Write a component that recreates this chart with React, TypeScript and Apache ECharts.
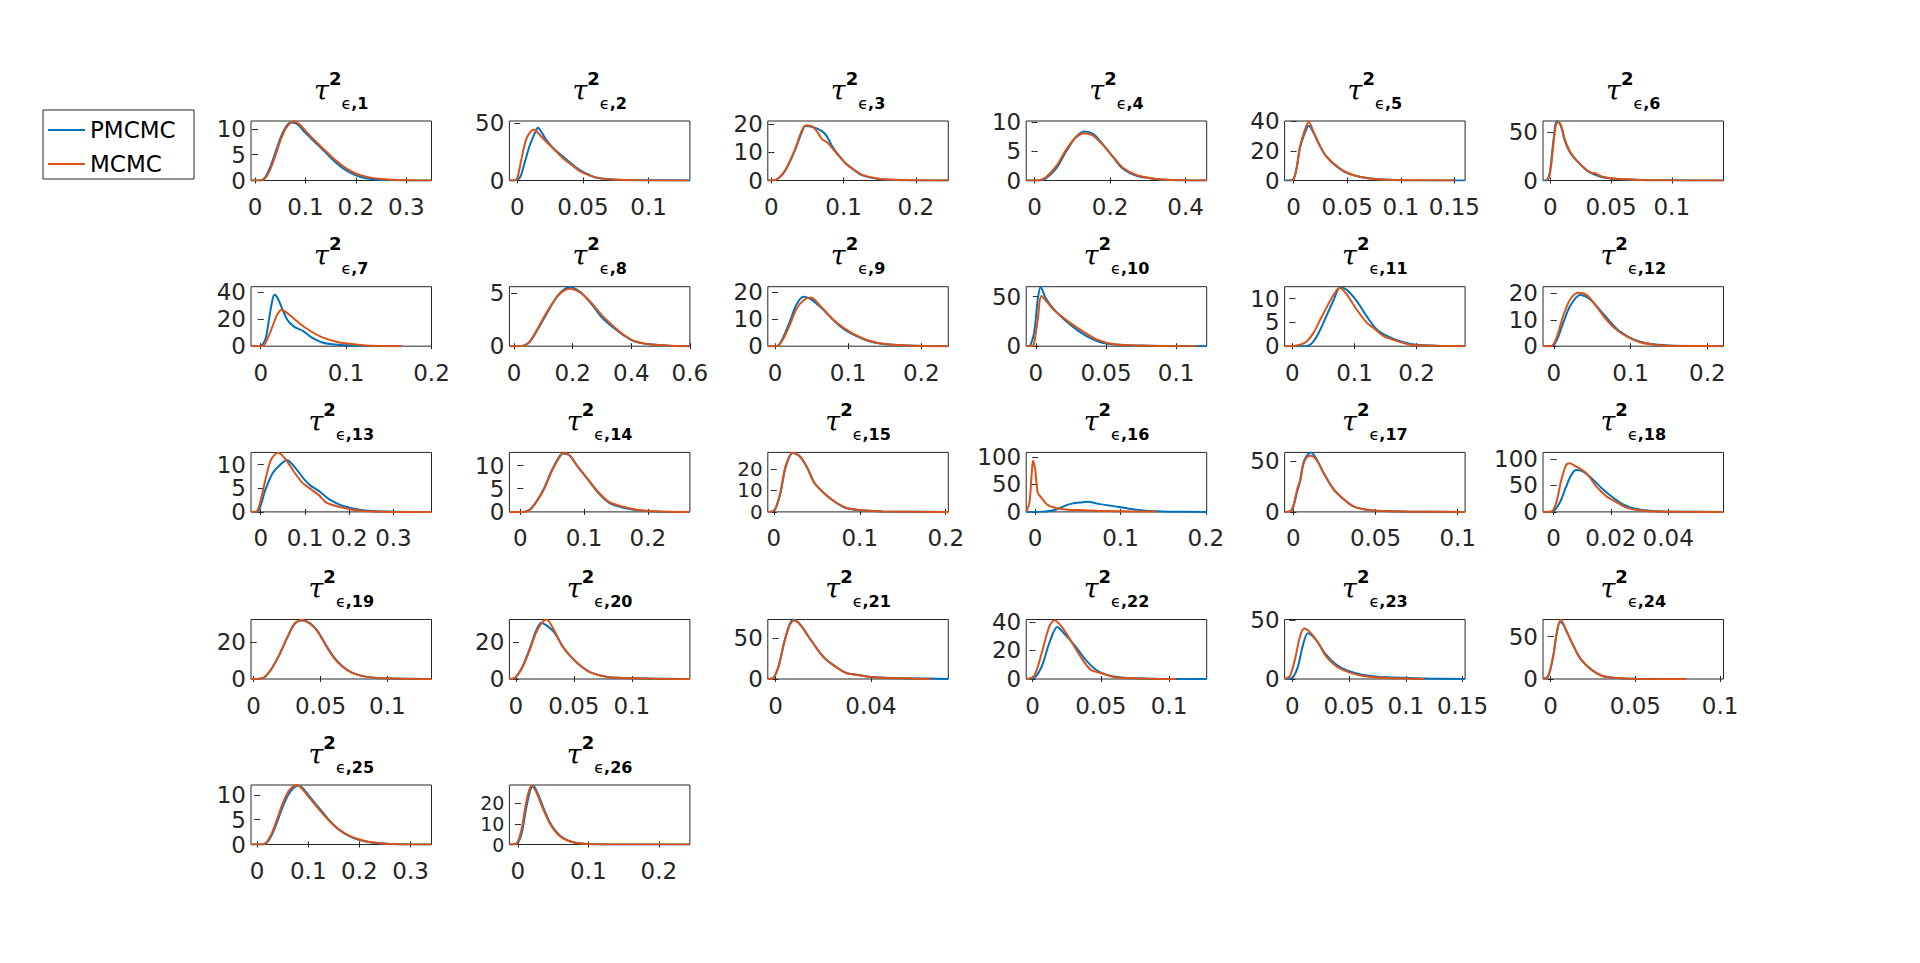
import React, { useEffect, useRef } from 'react';
import * as echarts from 'echarts';

// ---------------- data ----------------
const panelIds = [1, 2, 3, 4, 5, 6, 7, 8, 9, 10, 11, 12, 13, 14, 15, 16, 17, 18, 19, 20, 21, 22, 23, 24, 25, 26];

const xLimits = [
  [-0.008, 0.35], [-0.006, 0.1315], [-0.005, 0.245], [-0.022, 0.456], [-0.0084, 0.16], [-0.006, 0.1426],
  [-0.0114, 0.2], [-0.016, 0.6], [-0.0098, 0.237], [-0.0069, 0.1218], [-0.0125, 0.278], [-0.014, 0.221],
  [-0.022, 0.386], [-0.017, 0.266], [-0.007, 0.203], [-0.0105, 0.201], [-0.0053, 0.1045], [-0.0037, 0.0593],
  [-0.002, 0.133], [-0.0056, 0.15], [-0.0033, 0.0725], [-0.0046, 0.1275], [-0.0069, 0.1523], [-0.0045, 0.102],
  [-0.012, 0.341], [-0.012, 0.244],
];

const yMaxima = [
  11.5, 52, 21, 10.2, 40, 61.5,
  44, 5.6, 22, 60, 12.5, 22.5,
  12.6, 12.85, 27.8, 108, 59, 112,
  32.5, 32.2, 72.3, 41.6, 50.4, 70,
  12, 29,
];

const xTickValues = [
  [0, 0.1, 0.2, 0.3], [0, 0.05, 0.1], [0, 0.1, 0.2], [0, 0.2, 0.4], [0, 0.05, 0.1, 0.15], [0, 0.05, 0.1],
  [0, 0.1, 0.2], [0, 0.2, 0.4, 0.6], [0, 0.1, 0.2], [0, 0.05, 0.1], [0, 0.1, 0.2], [0, 0.1, 0.2],
  [0, 0.1, 0.2, 0.3], [0, 0.1, 0.2], [0, 0.1, 0.2], [0, 0.1, 0.2], [0, 0.05, 0.1], [0, 0.02, 0.04],
  [0, 0.05, 0.1], [0, 0.05, 0.1], [0, 0.04], [0, 0.05, 0.1], [0, 0.05, 0.1, 0.15], [0, 0.05, 0.1],
  [0, 0.1, 0.2, 0.3], [0, 0.1, 0.2],
];

const yTickValues = [
  [0, 5, 10], [0, 50], [0, 10, 20], [0, 5, 10], [0, 20, 40], [0, 50],
  [0, 20, 40], [0, 5], [0, 10, 20], [0, 50], [0, 5, 10], [0, 10, 20],
  [0, 5, 10], [0, 5, 10], [0, 10, 20], [0, 50, 100], [0, 50], [0, 50, 100],
  [0, 20], [0, 20], [0, 50], [0, 20, 40], [0, 50], [0, 50],
  [0, 5, 10], [0, 10, 20],
];

const pmcmcCurves = [
  [[-0.008,0],[0.01,0],[0.02,0.6],[0.03,2.6],[0.04,5.3],[0.05,8.1],[0.06,10.2],[0.07,11.2],[0.08,11.1],[0.09,10.3],[0.1,9.2],[0.12,7.3],[0.14,5.4],[0.16,3.5],[0.18,2],[0.2,1.0],[0.22,0.45],[0.25,0.12],[0.3,0.02],[0.35,0]],
  [[-0.006,0],[-0.001,0.3],[0.002,2.5],[0.004,8.9],[0.0065,19],[0.0092,29.7],[0.012,38],[0.0145,44],[0.0157,46.4],[0.018,43],[0.022,35.7],[0.028,27.5],[0.035,20.8],[0.042,14],[0.048,8.9],[0.055,4.8],[0.0605,2.4],[0.073,0.9],[0.09,0.3],[0.1315,0]],
  [[-0.005,0],[0.002,0],[0.01,0.8],[0.0195,3.6],[0.033,10.9],[0.042,17],[0.047,19.2],[0.057,18.9],[0.07,17.4],[0.077,15.5],[0.084,12.2],[0.093,9],[0.103,6],[0.115,3.6],[0.126,1.8],[0.149,0.5],[0.18,0.1],[0.245,0]],
  [[-0.022,0],[0.013,0],[0.031,0.4],[0.058,2.1],[0.084,5],[0.11,7.5],[0.133,8.4],[0.155,8],[0.181,6.2],[0.208,4],[0.234,2],[0.27,0.8],[0.314,0.3],[0.36,0.08],[0.456,0]],
  [[-0.0084,0],[-0.004,0],[0,1],[0.003,9],[0.006,22],[0.011,33],[0.014,37],[0.019,31.6],[0.025,22.6],[0.031,15.8],[0.041,9],[0.05,5],[0.0625,2.3],[0.078,0.8],[0.1,0.2],[0.16,0]],
  [[-0.006,0],[-0.0033,0],[-0.0006,7],[0.002,34.7],[0.0044,59],[0.0058,61.2],[0.009,55.5],[0.0118,41.7],[0.016,29.5],[0.0215,20.8],[0.03,10.4],[0.035,7],[0.043,3.4],[0.0545,1.5],[0.074,0.5],[0.1,0.15],[0.1426,0]],
  [[-0.0114,0],[-0.001,0],[0.0054,5],[0.0097,20],[0.013,32],[0.016,38],[0.019,36.5],[0.022,32.5],[0.0307,20],[0.039,14.5],[0.0497,11.2],[0.06,6.3],[0.073,2.5],[0.094,0.8],[0.12,0.2],[0.165,0]],
  [[-0.016,0],[0.018,0],[0.049,0.3],[0.079,1.5],[0.116,3.3],[0.153,4.9],[0.19,5.55],[0.226,5.1],[0.263,4],[0.3,2.7],[0.336,1.8],[0.373,1.05],[0.41,0.45],[0.47,0.15],[0.55,0.02],[0.6,0]],
  [[-0.0098,0],[0.0025,0],[0.0099,2.5],[0.0197,8.7],[0.0295,15.4],[0.039,18.3],[0.049,17.4],[0.064,14],[0.079,9.9],[0.093,6.6],[0.108,4.2],[0.128,1.9],[0.148,0.8],[0.18,0.25],[0.237,0]],
  [[-0.0069,0],[-0.005,0],[-0.0013,13.4],[0.0013,46.7],[0.0034,60],[0.0065,50],[0.0103,41.7],[0.0154,33.4],[0.023,23.4],[0.0308,15],[0.0385,8.4],[0.046,4],[0.056,1.7],[0.07,0.7],[0.1,0.2],[0.1218,0]],
  [[-0.0125,0],[0.023,0],[0.034,1],[0.045,3.5],[0.0557,6.6],[0.0665,9.7],[0.077,12.4],[0.088,11.8],[0.104,9.4],[0.12,6.2],[0.136,3.5],[0.153,2.1],[0.174,1],[0.2,0.3],[0.24,0.05],[0.278,0]],
  [[-0.014,0],[-0.003,0],[0.0035,2],[0.012,8.5],[0.021,15],[0.034,19.4],[0.047,17.8],[0.06,13.7],[0.073,9.4],[0.086,5.6],[0.103,2.7],[0.125,0.9],[0.15,0.3],[0.221,0]],
  [[-0.022,0],[-0.0095,0],[-0.0014,1],[0.0106,4.7],[0.0268,8.2],[0.043,9.9],[0.059,11],[0.079,9.2],[0.0993,6.8],[0.115,5.4],[0.132,4.4],[0.156,2.6],[0.188,1.2],[0.236,0.3],[0.3,0.05],[0.386,0]],
  [[-0.017,0],[0.0045,0],[0.0158,0.6],[0.027,2.6],[0.038,5.3],[0.0495,9],[0.061,11.9],[0.0665,12.6],[0.0777,12.2],[0.089,10],[0.106,7],[0.123,4],[0.14,1.9],[0.162,0.9],[0.185,0.35],[0.22,0.05],[0.266,0]],
  [[-0.007,0],[-0.005,0],[0.0013,1],[0.0076,8.5],[0.0138,21],[0.0222,27.5],[0.0306,25.9],[0.039,20.5],[0.0473,13.5],[0.0598,8.2],[0.0724,4.3],[0.085,1.7],[0.106,0.6],[0.127,0.2],[0.203,0]],
  [[-0.0105,0],[0.0093,0.5],[0.022,3],[0.0346,11],[0.043,15],[0.0558,17.5],[0.062,18.5],[0.0725,15],[0.085,12],[0.098,9],[0.115,5],[0.136,1.5],[0.157,0.4],[0.201,0]],
  [[-0.0053,0],[-0.002,0.5],[0,5],[0.0023,20],[0.0041,30],[0.0061,48.4],[0.0082,55.5],[0.0108,59],[0.0143,52],[0.0184,38.6],[0.0245,22.3],[0.0306,12.5],[0.0367,5.3],[0.045,2],[0.055,0.8],[0.0715,0.2],[0.1045,0]],
  [[-0.0037,0],[-0.0005,0.5],[0.0021,17],[0.0044,48],[0.0062,70],[0.0079,79],[0.0103,76],[0.0138,60.6],[0.0173,42],[0.0208,26.7],[0.0243,14.2],[0.0278,6.8],[0.0336,2],[0.04,0.5],[0.0593,0]],
  [[-0.002,0],[0.0068,0.5],[0.0128,5],[0.0187,12.5],[0.0246,21.8],[0.0305,30],[0.0364,32],[0.0423,30.4],[0.0482,25.8],[0.0541,18.5],[0.06,12],[0.066,7.2],[0.0738,3.3],[0.0837,1.3],[0.0974,0.4],[0.133,0]],
  [[-0.0056,0],[-0.001,0.5],[0.0058,6.9],[0.0127,17.8],[0.0173,26],[0.0218,30.5],[0.0264,29],[0.0333,25],[0.0401,17.8],[0.047,12.4],[0.0562,6.9],[0.0653,3.3],[0.079,1.1],[0.102,0.4],[0.15,0]],
  [[-0.0033,0],[-0.001,1.2],[0.0012,15.4],[0.0035,43.9],[0.0058,66],[0.0076,72.3],[0.0103,66],[0.0137,52],[0.0171,37.8],[0.0205,25.6],[0.025,15.4],[0.0296,7.3],[0.0341,5.2],[0.0398,2.4],[0.0489,1.2],[0.0647,0.5],[0.0725,0]],
  [[-0.0046,0],[0.0011,0.7],[0.0068,8.9],[0.0124,25.4],[0.0181,36.3],[0.0237,31.2],[0.0313,23],[0.0388,13.6],[0.0464,6.5],[0.054,3],[0.0652,1],[0.085,0.2],[0.1275,0]],
  [[-0.0069,0],[-0.0005,0.8],[0.0045,9.4],[0.0091,27.9],[0.0136,38.7],[0.0204,33.6],[0.0295,20.8],[0.0386,12.2],[0.0477,7.4],[0.0613,3.7],[0.0841,1.4],[0.12,0.4],[0.1523,0]],
  [[-0.0045,0],[-0.0015,3],[0.0015,26.6],[0.0036,54],[0.0055,67],[0.0075,64],[0.009,58],[0.0136,38.4],[0.018,22.7],[0.024,11],[0.0302,3.9],[0.0392,1.2],[0.05,0.3],[0.08,0]],
  [[-0.012,0],[0.01,0],[0.02,0.5],[0.03,2.2],[0.04,4.8],[0.05,7.6],[0.06,9.9],[0.07,11.3],[0.08,11.9],[0.09,11.3],[0.1,10],[0.12,7.5],[0.14,5],[0.16,3],[0.18,1.7],[0.2,0.9],[0.22,0.45],[0.26,0.1],[0.34,0]],
  [[-0.012,0],[-0.002,0.3],[0.005,5],[0.012,18],[0.018,27],[0.022,28.5],[0.028,25],[0.035,19],[0.045,11],[0.055,6],[0.065,3],[0.08,1],[0.1,0.3],[0.14,0.05],[0.244,0]],
];

const mcmcCurves = [
  [[-0.008,0],[0.01,0],[0.02,0.4],[0.03,2.1],[0.04,4.7],[0.05,7.6],[0.06,9.9],[0.07,11.1],[0.078,11.4],[0.09,10.7],[0.1,9.6],[0.12,7.6],[0.14,5.7],[0.16,3.9],[0.18,2.4],[0.2,1.35],[0.22,0.75],[0.25,0.3],[0.3,0.06],[0.35,0]],
  [[-0.006,0],[-0.002,0.2],[0,2],[0.003,17.8],[0.0067,35.7],[0.01,42.5],[0.013,44.6],[0.0155,42],[0.018,38.7],[0.0246,31],[0.03,25],[0.035,19.3],[0.042,13],[0.048,8],[0.055,4.5],[0.0605,2.5],[0.073,0.8],[0.09,0.2],[0.13,0]],
  [[-0.005,0],[0.002,0],[0.01,0.9],[0.0195,3.8],[0.033,11.2],[0.042,17.5],[0.048,19.5],[0.057,19],[0.064,17],[0.07,14.6],[0.077,13.5],[0.084,11.5],[0.093,8.8],[0.103,6],[0.115,3.7],[0.126,2],[0.149,0.6],[0.18,0.15],[0.245,0]],
  [[-0.022,0],[0.013,0.05],[0.031,0.6],[0.058,2.5],[0.084,5.3],[0.11,7.4],[0.133,8.1],[0.155,7.7],[0.181,6.1],[0.208,4.1],[0.234,2.2],[0.27,0.95],[0.314,0.35],[0.36,0.1],[0.456,0]],
  [[-0.004,0],[0,1],[0.003,9],[0.006,23],[0.011,35],[0.014,39.5],[0.019,32],[0.025,22.6],[0.031,15.8],[0.041,9.2],[0.05,5.2],[0.0625,2.4],[0.078,0.9],[0.1,0.25],[0.15,0]],
  [[-0.0033,0],[-0.0006,5],[0.002,30],[0.0044,56],[0.0065,60.5],[0.009,56.5],[0.0118,43],[0.016,30.5],[0.0215,21],[0.03,10.8],[0.034,8],[0.037,7.5],[0.043,3.8],[0.0545,1.7],[0.074,0.6],[0.1,0.15],[0.1426,0]],
  [[-0.0114,0],[0.002,0],[0.0075,5],[0.014,15],[0.019,23],[0.0244,27],[0.03,25],[0.035,22.5],[0.0518,13.8],[0.073,6.3],[0.094,2.5],[0.102,2],[0.123,0.5],[0.165,0]],
  [[-0.016,0],[0.018,0],[0.049,0.3],[0.079,1.6],[0.116,3.4],[0.153,4.85],[0.19,5.4],[0.226,5.05],[0.263,4.1],[0.3,2.9],[0.336,1.95],[0.373,1.1],[0.41,0.5],[0.47,0.15],[0.55,0.03],[0.6,0]],
  [[-0.0098,0],[0.0025,0],[0.0099,2],[0.0197,7.5],[0.0295,13.8],[0.039,17],[0.049,18],[0.064,14.3],[0.079,10],[0.093,7],[0.108,4.5],[0.128,2.1],[0.148,0.9],[0.18,0.3],[0.237,0]],
  [[-0.0069,0],[-0.003,0],[-0.0013,3],[0.0013,26.7],[0.0039,50.5],[0.0077,45],[0.0128,36.7],[0.023,25],[0.0334,15],[0.0436,6.7],[0.056,2],[0.08,0.5],[0.115,0]],
  [[-0.0125,0],[-0.004,0],[0.0125,0.3],[0.023,1],[0.034,2.8],[0.045,5.6],[0.0557,8.3],[0.0665,10.8],[0.076,12.3],[0.088,10.8],[0.104,7.6],[0.12,4.9],[0.131,3.8],[0.147,2.1],[0.164,1.3],[0.19,0.3],[0.23,0.1],[0.278,0]],
  [[-0.014,0],[-0.003,0.1],[0.0035,3.1],[0.012,11.2],[0.021,17.5],[0.0317,20.2],[0.0426,19.4],[0.0557,15],[0.0687,10],[0.0818,6.2],[0.095,3.7],[0.112,1.5],[0.138,0.4],[0.17,0.1],[0.221,0]],
  [[-0.022,0],[-0.0095,0.1],[-0.0014,2],[0.0106,6.8],[0.023,11],[0.039,12.5],[0.055,11.3],[0.075,8.5],[0.095,6.1],[0.115,4.7],[0.132,3.5],[0.148,2],[0.172,1.2],[0.22,0.3],[0.28,0.05],[0.386,0]],
  [[-0.017,0],[0.0045,0],[0.0158,0.5],[0.027,2.5],[0.038,5.1],[0.0495,8.8],[0.061,11.7],[0.068,12.85],[0.0777,12.1],[0.089,10],[0.106,7.1],[0.123,4.2],[0.14,2.1],[0.162,1.1],[0.185,0.4],[0.22,0.08],[0.266,0]],
  [[-0.007,0],[-0.005,0],[0.0013,1.3],[0.0076,9],[0.0138,21.5],[0.0222,27.7],[0.0306,25.7],[0.039,20.5],[0.0473,13.5],[0.0598,8.2],[0.0724,4.4],[0.085,1.8],[0.106,0.6],[0.127,0.2],[0.203,0]],
  [[-0.0105,0],[-0.0097,0],[-0.0067,17],[-0.004,71],[-0.0025,93],[0,77],[0.003,35],[0.0072,26],[0.0135,14],[0.022,8],[0.039,4],[0.056,3],[0.0725,2],[0.0937,1.2],[0.115,0.8],[0.142,0.5]],
  [[-0.0053,0],[-0.002,0.6],[0,6],[0.0023,22],[0.0041,31],[0.0061,47],[0.0082,54],[0.0108,55.6],[0.0143,51],[0.0184,38.6],[0.0245,22.5],[0.0306,12.7],[0.0367,5.5],[0.045,2.1],[0.055,0.8],[0.0715,0.2],[0.1045,0]],
  [[-0.0037,0],[-0.0008,0.6],[0.00094,17.4],[0.0027,60.6],[0.0044,88.3],[0.0056,91.5],[0.0079,85.2],[0.0114,73],[0.0149,48],[0.0184,29.6],[0.0219,18.5],[0.0254,8.1],[0.0301,3.1],[0.0371,0.6],[0.0593,0]],
  [[-0.002,0],[0.0068,0.5],[0.0128,5],[0.0187,12.5],[0.0246,21.8],[0.0305,30.2],[0.0364,32.4],[0.0423,30],[0.0482,25.5],[0.0541,18],[0.06,11.6],[0.066,7],[0.0738,3.3],[0.0837,1.3],[0.0974,0.4],[0.133,0]],
  [[-0.0056,0],[-0.001,0.5],[0.0058,6.5],[0.0127,17],[0.0173,25],[0.0218,30],[0.0264,32.2],[0.0333,26],[0.0401,17.8],[0.047,12.4],[0.0562,6.9],[0.0653,3.3],[0.079,1.1],[0.102,0.4],[0.15,0]],
  [[-0.0033,0],[-0.001,1.2],[0.0012,15],[0.0035,43],[0.0058,65],[0.0078,71],[0.0103,66],[0.0137,52],[0.0171,37.8],[0.0205,25.6],[0.025,15.4],[0.0296,7.3],[0.0341,5],[0.0398,2.4],[0.0489,1.2],[0.065,0]],
  [[-0.0046,0],[0.0011,1.9],[0.0068,18.3],[0.0124,37],[0.0162,41],[0.0219,35.9],[0.0275,27.7],[0.035,15.9],[0.0426,6.5],[0.0502,4.2],[0.0596,1.4],[0.0729,0.5],[0.105,0]],
  [[-0.0069,0],[-0.0023,2.3],[0.0022,16.5],[0.0068,36.4],[0.0104,42.7],[0.0159,39.3],[0.0227,30.8],[0.0295,19.3],[0.0386,10.8],[0.0477,6.5],[0.0613,2.8],[0.0841,0.8],[0.116,0]],
  [[-0.0045,0],[-0.0015,3],[0.0015,26.6],[0.0036,54],[0.006,70],[0.009,58],[0.0136,38.4],[0.018,22.7],[0.024,11],[0.0302,3.9],[0.0392,1.2],[0.05,0.3],[0.08,0]],
  [[-0.012,0],[0.01,0],[0.02,0.7],[0.03,2.6],[0.04,5.4],[0.05,8.3],[0.06,10.5],[0.07,11.7],[0.078,12],[0.09,11],[0.1,9.7],[0.12,7.2],[0.14,4.9],[0.16,3],[0.18,1.8],[0.2,1.0],[0.22,0.5],[0.26,0.12],[0.34,0]],
  [[-0.012,0],[-0.002,0.5],[0.005,7],[0.012,21],[0.017,27.5],[0.02,28.5],[0.026,25.5],[0.035,18],[0.045,10.5],[0.055,5.6],[0.065,2.8],[0.08,1],[0.1,0.3],[0.14,0.05],[0.244,0]],
];

const seriesNames = ['PMCMC', 'MCMC'];

// ---------------- layout ----------------
const COL_LEFT = [251, 509.4, 767.8, 1026.2, 1284.6, 1543];
const ROW_TOP = [121, 286.7, 452.4, 619.5, 785];
const BOX_W = 180.5;
const BOX_H = 59.5;
const AX_COLOR = '#262626';
const BLUE = '#0072BD';
const ORANGE = '#D95319';
const LABEL_FONT = 'DejaVu Sans';
const LABEL_SIZE = 23;
const Y_LABEL_GAP = 5;

const labelBase = {
  color: AX_COLOR, fontFamily: LABEL_FONT,
  showMinLabel: true, showMaxLabel: true, hideOverlap: false,
  formatter: (v: number) => String(v),
};

// y-label font: shrink only where the tick spacing is tighter than the font
function yLabelSize(i: number) {
  const yt = yTickValues[i];
  const step = yt[1] - yt[0];
  const spacing = (BOX_H * step) / yMaxima[i];
  return spacing < LABEL_SIZE ? Math.floor(spacing) - 1 : LABEL_SIZE;
}

function buildOption() {
  const grid: any[] = [];
  const xAxis: any[] = [];
  const yAxis: any[] = [];
  const series: any[] = [];
  const title: any[] = [];

  panelIds.forEach((id, i) => {
    const col = i % 6;
    const row = Math.floor(i / 6);
    const left = COL_LEFT[col];
    const top = ROW_TOP[row];
    grid.push({
      left, top, width: BOX_W, height: BOX_H,
      show: true, borderColor: AX_COLOR, borderWidth: 1, backgroundColor: 'transparent',
      containLabel: false,
    });
    title.push({
      text: `{t|τ}{s|2}{e|ϵ}{n|,${id}}`,
      left: left + BOX_W / 2,
      top: top - 52,
      textAlign: 'center',
      padding: 0,
      textStyle: {
        fontWeight: 'normal',
        rich: {
          t: { fontFamily: 'DejaVu Serif', fontStyle: 'italic', fontWeight: 'normal', fontSize: 27, lineHeight: 42, color: '#000' },
          s: { fontFamily: LABEL_FONT, fontWeight: 'bold', fontSize: 18, lineHeight: 18, verticalAlign: 'top', color: '#000' },
          e: { fontFamily: LABEL_FONT, fontWeight: 'normal', fontSize: 16, lineHeight: 16, verticalAlign: 'bottom', color: '#000' },
          n: { fontFamily: LABEL_FONT, fontWeight: 'bold', fontSize: 16, lineHeight: 16, verticalAlign: 'bottom', color: '#000' },
        },
      },
    });
    const xt = xTickValues[i];
    const yt = yTickValues[i];
    const ySize = yLabelSize(i);
    xAxis.push({
      type: 'value', gridIndex: i, position: 'bottom',
      min: xLimits[i][0], max: xLimits[i][1],
      axisLine: { show: false }, splitLine: { show: false },
      axisTick: { show: true, inside: true, length: 3, customValues: xt, lineStyle: { color: AX_COLOR } },
      axisLabel: { ...labelBase, fontSize: LABEL_SIZE, show: true, customValues: xt, margin: 15 },
    });
    // left axis: labels at even tick indices
    yAxis.push({
      type: 'value', gridIndex: i, position: 'left',
      min: 0, max: yMaxima[i],
      axisLine: { show: false }, splitLine: { show: false },
      axisTick: { show: true, inside: true, length: 3, customValues: yt, lineStyle: { color: AX_COLOR } },
      axisLabel: { ...labelBase, fontSize: ySize, show: true, customValues: yt.filter((_, k) => k % 2 === 0), margin: Y_LABEL_GAP },
    });
    series.push({
      type: 'line', name: seriesNames[0], xAxisIndex: i, yAxisIndex: i,
      data: pmcmcCurves[i], showSymbol: false, smooth: 0.3,
      lineStyle: { color: BLUE, width: 2 }, itemStyle: { color: BLUE },
    });
    series.push({
      type: 'line', name: seriesNames[1], xAxisIndex: i, yAxisIndex: i,
      data: mcmcCurves[i], showSymbol: false, smooth: 0.3,
      lineStyle: { color: ORANGE, width: 2 }, itemStyle: { color: ORANGE },
    });
  });

  // mirrored ticks on top / right edges (MATLAB box style);
  // the right axis also carries the odd-index y labels, drawn on the left side.
  panelIds.forEach((id, i) => {
    const yt = yTickValues[i];
    xAxis.push({
      type: 'value', gridIndex: i, position: 'top',
      min: xLimits[i][0], max: xLimits[i][1],
      axisLine: { show: false }, splitLine: { show: false },
      axisTick: { show: true, inside: true, length: 3, customValues: xTickValues[i], lineStyle: { color: AX_COLOR } },
      axisLabel: { show: false },
    });
    const odd = yt.filter((_, k) => k % 2 === 1);
    yAxis.push({
      type: 'value', gridIndex: i, position: 'right',
      min: 0, max: yMaxima[i],
      axisLine: { show: false }, splitLine: { show: false },
      axisTick: { show: true, inside: true, length: 3, customValues: yt, lineStyle: { color: AX_COLOR } },
      axisLabel: {
        ...labelBase, fontSize: yLabelSize(i), show: odd.length > 0, customValues: odd,
        margin: -(BOX_W + Y_LABEL_GAP), align: 'right',
      },
    });
  });

  return {
    animation: false,
    backgroundColor: '#ffffff',
    title,
    legend: {
      data: seriesNames,
      orient: 'vertical',
      left: 43, top: 110,
      icon: 'rect', itemWidth: 37, itemHeight: 2, itemGap: 10,
      padding: [8, 6, 3, 5],
      borderColor: AX_COLOR, borderWidth: 1, backgroundColor: '#fff',
      selectedMode: false,
      textStyle: { fontSize: 23, fontFamily: LABEL_FONT, color: '#000', lineHeight: 24, width: 98 },
    },
    grid, xAxis, yAxis, series,
  };
}

export default function App() {
  const ref = useRef<HTMLDivElement>(null);
  useEffect(() => {
    document.body.style.margin = '0';
    if (!ref.current) return;
    const chart = echarts.init(ref.current, undefined, { renderer: 'svg' });
    chart.setOption(buildOption() as any);
    return () => chart.dispose();
  }, []);
  return <div ref={ref} style={{ width: 1920, height: 963, background: '#fff' }} />;
}
